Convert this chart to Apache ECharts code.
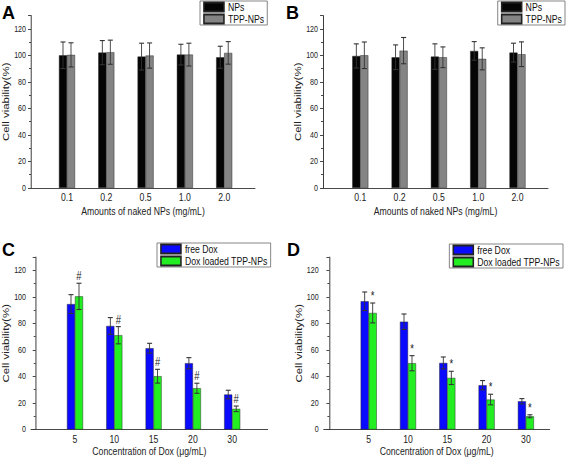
<!DOCTYPE html>
<html><head><meta charset="utf-8">
<script src="https://cdn.jsdelivr.net/npm/echarts@6/dist/echarts.min.js"></script>
<style>
html,body{margin:0;padding:0;background:#fff;overflow:hidden}
#wrap{width:567px;height:457px;overflow:hidden}
#c{height:457px;transform-origin:0 0}
</style>
</head><body><div id="wrap"><div id="c"></div></div>
<script>
// ---- data ----
const catNP = ['0.1', '0.2', '0.5', '1.0', '2.0'];
const catDox = ['5', '10', '15', '20', '30'];
const aNPs = [100.1, 102.1, 99.1, 100.6, 98.6];
const aNPsErr = [10, 9.1, 10.1, 7.8, 8.3];
const aTPP = [100.4, 102.4, 99.9, 100.6, 101.9];
const aTPPErr = [9.1, 9.1, 9.5, 8.6, 8.5];
const bNPs = [99.6, 98.6, 99.1, 103.4, 102.1];
const bNPsErr = [9.1, 9.3, 9.6, 7, 7.1];
const bTPP = [100.1, 103.6, 98.6, 97.4, 100.9];
const bTPPErr = [10, 9.9, 7.8, 8.3, 9.3];
const cFree = [94.6, 78.1, 61.3, 50, 26.4];
const cFreeErr = [7.1, 6.3, 3.7, 4.2, 3.2];
const cLoaded = [100.4, 71.1, 40.2, 31.1, 15.6];
const cLoadedErr = [9.9, 6.5, 5.2, 3.8, 2.1];
const dFree = [96.7, 81.3, 50.2, 33.4, 21.3];
const dFreeErr = [7, 5.8, 4.5, 3.5, 2];
const dLoaded = [87.9, 50, 38.9, 22.6, 10];
const dLoadedErr = [7.5, 5.7, 5, 4, 1.1];
const cMarks = ['#', '#', '#', '#', '#'];
const dMarks = ['*', '*', '*', '*', '*'];

// ---- layout (real pixel numbers, converted for the horizontally condensed drawing) ----
const SQ = 0.79;               // horizontal condensing of the original figure
const W = 567 / SQ;
const el = document.getElementById('c');
el.style.width = W + 'px';
el.style.transform = 'scaleX(' + SQ + ')';
const X = v => v / SQ;

const FONT = 'Liberation Sans';
const SP = 39.3;
const panels = [
  {letter: 'A', start: 31, first: 67, end: 255, y0: 188, cats: catNP, xname: 'Amounts of naked NPs (mg/mL)', ng: 17.5,
   s: [['NPs', aNPs, aNPsErr, '#050505'], ['TPP-NPs', aTPP, aTPPErr, '#848484']], marks: null,
   legend: {left: X(200), top: 1}, lx: 2, ly: 4},
  {letter: 'B', start: 323, first: 360.3, end: 548, y0: 188, cats: catNP, xname: 'Amounts of naked NPs (mg/mL)', ng: 17.5,
   s: [['NPs', bNPs, bNPsErr, '#050505'], ['TPP-NPs', bTPP, bTPPErr, '#848484']], marks: null,
   legend: {right: X(2), top: 1}, lx: 286, ly: 4},
  {letter: 'C', start: 31, first: 75, end: 267.7, y0: 429.5, cats: catDox, xname: 'Concentration of Dox (\u03bcg/mL)', ng: 16,
   s: [['free Dox', cFree, cFreeErr, '#0a0aff'], ['Dox loaded TPP-NPs', cLoaded, cLoadedErr, '#22ee22']], marks: cMarks,
   legend: {left: X(157), top: 243}, lx: 2, ly: 241},
  {letter: 'D', start: 323.7, first: 368.7, end: 549.7, y0: 429.5, cats: catDox, xname: 'Concentration of Dox (\u03bcg/mL)', ng: 16,
   s: [['free Dox', dFree, dFreeErr, '#0a0aff'], ['Dox loaded TPP-NPs', dLoaded, dLoadedErr, '#22ee22']], marks: dMarks,
   legend: {right: X(4), top: 244}, lx: 287, ly: 241}
];
const PXU = 1.326;
const BW = X(8);

const grid = [], xAxis = [], yAxis = [], series = [], legend = [], graphic = [];
panels.forEach((p, i) => {
  grid.push({left: X(p.start), width: X(p.end - p.start), top: p.y0 - 130 * PXU, height: 130 * PXU,
    containLabel: false, outerBoundsMode: 'none'});
  const cats = p.cats;
  xAxis.push({
    type: 'value', gridIndex: i,
    min: 1 - (p.first - p.start) / SP, max: 1 + (p.end - p.first) / SP,
    axisLine: {show: true, lineStyle: {color: '#333', width: 1}},
    axisTick: {show: false}, splitLine: {show: false},
    axisLabel: {customValues: [1, 2, 3, 4, 5], formatter: v => (Number.isInteger(v) && v >= 1 && v <= 5) ? cats[v - 1] : '',
      fontFamily: FONT, fontSize: 11, color: '#222', margin: 4},
    name: p.xname, nameLocation: 'middle', nameGap: p.ng,
    nameTextStyle: {fontFamily: FONT, fontSize: 11, color: '#222'}
  });
  yAxis.push({
    type: 'value', gridIndex: i, min: 0, max: 130, interval: 20,
    axisLine: {show: true, lineStyle: {color: '#333', width: 1.2}},
    axisTick: {show: true, inside: false, length: X(3), lineStyle: {color: '#333'}},
    minorTick: {show: true, splitNumber: 2, length: X(2), lineStyle: {color: '#333'}},
    splitLine: {show: false},
    axisLabel: {showMaxLabel: false, fontFamily: FONT, fontSize: 9, color: '#222', margin: X(5)},
    name: 'Cell viability(%)', nameLocation: 'middle', nameGap: 25,
    nameTextStyle: {fontFamily: FONT, fontSize: 11.5, color: '#222'}
  });
  p.s.forEach((s) => {
    series.push({
      type: 'bar', name: s[0], xAxisIndex: i, yAxisIndex: i,
      data: s[1].map((v, j) => [j + 1, v]),
      barWidth: BW, barGap: '0%',
      itemStyle: {color: s[3], borderColor: '#222', borderWidth: 0.5},
      emphasis: {disabled: true}
    });
  });
  p.s.forEach((s, k) => {
    const off = k === 0 ? -BW / 2 : BW / 2;
    series.push({
      type: 'custom', xAxisIndex: i, yAxisIndex: i, silent: true, z: 5,
      data: s[1].map((v, j) => [j + 1, v, s[2][j]]),
      renderItem: (params, api) => {
        const x = api.value(0), v = api.value(1), e = api.value(2);
        const t = api.coord([x, v + e]), b = api.coord([x, v - e]);
        const cx = t[0] + off, hw = X(2.5);
        const st = {stroke: '#333', lineWidth: 1.1};
        return {type: 'group', children: [
          {type: 'line', shape: {x1: cx, y1: t[1], x2: cx, y2: b[1]}, style: st},
          {type: 'line', shape: {x1: cx - hw, y1: t[1], x2: cx + hw, y2: t[1]}, style: st},
          {type: 'line', shape: {x1: cx - hw, y1: b[1], x2: cx + hw, y2: b[1]}, style: st}
        ]};
      }
    });
  });
  if (p.marks) {
    const s = p.s[1], marks = p.marks;
    series.push({
      type: 'custom', xAxisIndex: i, yAxisIndex: i, silent: true, z: 6,
      data: s[1].map((v, j) => [j + 1, v, s[2][j]]),
      renderItem: (params, api) => {
        const x = api.value(0), v = api.value(1), e = api.value(2);
        const t = api.coord([x, v + e]);
        return {type: 'text', x: t[0] + BW / 2, y: t[1] - 1.5,
          style: {text: marks[params.dataIndex], align: 'center', verticalAlign: 'bottom',
            fontFamily: FONT, fontSize: 12, fill: '#222'}};
      }
    });
  }
  legend.push(Object.assign({
    data: p.s.map(s => s[0]), orient: 'vertical', icon: 'rect',
    itemWidth: X(20), itemHeight: 9, itemGap: 1, padding: [0.5, 4, 0.5, 4],
    borderColor: '#777', borderWidth: 1, selectedMode: false,
    textStyle: {fontFamily: FONT, fontSize: 11, lineHeight: 11, color: '#111'}
  }, p.legend));
  graphic.push({type: 'text', x: X(p.lx), y: p.ly, scaleX: 1 / SQ,
    style: {text: p.letter, font: 'bold 18px "Liberation Sans"', fill: '#000', verticalAlign: 'top'}});
});

const chart = echarts.init(el, null, {renderer: 'svg', width: W, height: 457});
chart.setOption({animation: false, grid, xAxis, yAxis, series, legend, graphic});
</script></body></html>
